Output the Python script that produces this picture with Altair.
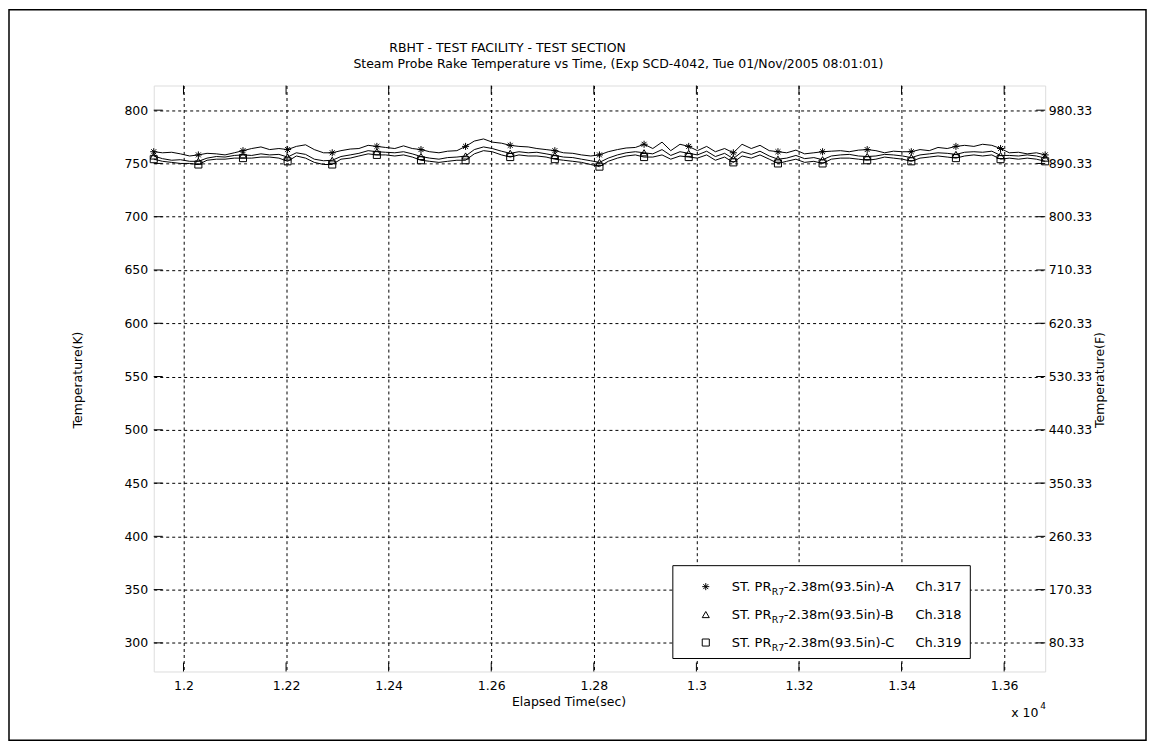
import altair as alt
import pandas as pd

# ---------------- data ----------------
TIME_S = [11942, 11959, 11977, 11994, 12012,
          12029, 12046, 12064, 12081, 12099,
          12116, 12133, 12151, 12168, 12186,
          12203, 12220, 12238, 12255, 12273,
          12290, 12307, 12325, 12342, 12360,
          12377, 12394, 12412, 12429, 12446,
          12463, 12480, 12498, 12515, 12533,
          12550, 12567, 12585, 12602, 12620,
          12637, 12654, 12672, 12689, 12707,
          12724, 12741, 12759, 12776, 12794,
          12811, 12828, 12846, 12863, 12881,
          12898, 12915, 12933, 12950, 12968,
          12985, 13002, 13020, 13037, 13055,
          13072, 13089, 13107, 13124, 13142,
          13159, 13176, 13194, 13211, 13229,
          13246, 13263, 13281, 13298, 13316,
          13333, 13350, 13367, 13384, 13402,
          13419, 13436, 13454, 13471, 13489,
          13506, 13523, 13541, 13558, 13576,
          13593, 13610, 13628, 13645, 13663,
          13680]

SER_A = [761, 760, 760.5, 759, 757,
         758, 759.5, 759, 758, 760,
         762, 764, 765.5, 763, 764,
         763, 766, 767.5, 763, 760,
         760, 762, 763.5, 764, 767,
         766, 765, 764, 766.5, 764,
         763, 761, 760, 761.5, 762,
         766, 771, 773, 770, 769,
         767, 766, 765.5, 764, 763,
         762, 760, 759.5, 758, 757,
         758, 761, 763, 764.5, 765,
         768, 764, 770, 762, 768,
         766, 762, 766, 761, 764,
         760, 768, 764, 767, 762,
         761, 760, 762.5, 759, 760,
         761, 761.5, 762, 761, 762.5,
         763, 762, 760, 761.5, 761,
         761, 763, 762, 765, 764,
         766, 767, 766, 768, 767,
         764, 760, 760.5, 759, 760,
         758]

SER_B = [757, 754.5, 753, 753.5, 752,
         752, 755, 756.5, 756, 757.5,
         758, 757.5, 759, 758, 758.5,
         756, 760, 758.5, 754, 752.5,
         753, 756.5, 758, 759.5, 762,
         761, 760.5, 760, 761, 759,
         756.5, 755, 754, 755.5, 756,
         757, 763, 765.5, 764, 761.5,
         759.5, 761, 760, 760.5, 759,
         757.5, 756, 755.5, 754, 752.5,
         751, 755, 758, 760, 761,
         760, 759, 763, 757.5, 761,
         759.5, 758, 761.5, 756.5, 759.5,
         754.5, 761, 758.5, 761.5, 757,
         754, 755, 757.5, 754.5, 755.5,
         753.5, 757, 758, 758.5, 757,
         756.5, 757, 758.5, 758, 757,
         755.5, 758, 759, 760, 759.5,
         758.5, 760.5, 761, 760.5, 761.5,
         757.5, 757.5, 757, 758, 757,
         755]

SER_C = [754, 752, 751, 750, 750,
         749, 753, 754, 754, 755,
         755, 755, 756, 756, 755,
         752, 757, 755, 751, 749,
         749, 754, 755, 757, 759,
         758, 758, 757, 758, 756,
         753, 752, 751, 752, 753,
         753, 759, 762, 761, 758,
         756, 758, 757, 757, 756,
         754, 753, 752, 751, 749,
         747, 752, 755, 757, 758,
         756, 756, 758, 754, 757,
         756, 755, 758, 753, 756,
         751, 757, 755, 758, 754,
         750, 752, 754, 751, 752,
         750, 754, 755, 755, 754,
         753, 754, 756, 755, 754,
         752, 755, 756, 757, 756,
         755, 757, 758, 757, 758,
         754, 755, 754, 755, 754,
         752]

SERIES_NAMES = ["A", "B", "C"]
LEGEND_PREFIX = "ST. PR"
LEGEND_SUB = "R7"
LEGEND_BODY = ["-2.38m(93.5in)-A", "-2.38m(93.5in)-B", "-2.38m(93.5in)-C"]
LEGEND_CH = ["Ch.317", "Ch.318", "Ch.319"]
MARKER_EVERY = 5

X_DOMAIN = [11942, 13680]
Y_DOMAIN = [273.15, 823.15]
X_TICKS_S = [12000, 12200, 12400, 12600, 12800, 13000, 13200, 13400, 13600]
Y_TICKS_K = [300, 350, 400, 450, 500, 550, 600, 650, 700, 750, 800]

TITLE_1 = "RBHT - TEST FACILITY - TEST SECTION"
TITLE_2 = "Steam Probe Rake Temperature vs Time, (Exp SCD-4042, Tue 01/Nov/2005 08:01:01)"
X_TITLE = "Elapsed Time(sec)"
Y_TITLE_L = "Temperature(K)"
Y_TITLE_R = "Temperature(F)"

# ---------------- layout / style ----------------
W, H = 893, 587
FONT = "DejaVu Sans"
FS = 12.5
TICK_LEN = 9
ASTERISK = "M0,-1L0,1M-1,0L1,0M-0.7,-0.7L0.7,0.7M-0.7,0.7L0.7,-0.7"
SHAPES = [ASTERISK, "triangle-up", "square"]

rows = []
for name, vals in zip(SERIES_NAMES, [SER_A, SER_B, SER_C]):
    for i, (t, v) in enumerate(zip(TIME_S, vals)):
        rows.append({"t": t, "temp": v, "series": name, "marker": i % MARKER_EVERY == 0})
df = pd.DataFrame(rows)

xs = alt.Scale(domain=X_DOMAIN, nice=False, zero=False)
ys = alt.Scale(domain=Y_DOMAIN, nice=False, zero=False)

common_axis = dict(ticks=False, domain=False, title=None, labelFont=FONT,
                   labelFontSize=FS, labelColor="black")

x_axis = alt.Axis(values=X_TICKS_S, labelExpr="format(datum.value/10000, '~g')",
                  grid=True, gridColor="black", gridDash=[3, 3], gridWidth=1,
                  gridOpacity=1, labelPadding=8, orient="bottom", **common_axis)
y_axis = alt.Axis(values=Y_TICKS_K, grid=True, gridColor="black", gridDash=[3, 3],
                  gridWidth=1, gridOpacity=1, labelPadding=6, orient="left", **common_axis)
y_axis_r = alt.Axis(values=Y_TICKS_K, orient="right", grid=False,
                    labelExpr="format(datum.value*1.8-459.67, '.2f')",
                    labelPadding=3, **common_axis)

X_ENC = dict(scale=xs, axis=x_axis)

lines = alt.Chart(df).mark_line(color="black", strokeWidth=1, clip=True).encode(
    x=alt.X("t:Q", **X_ENC),
    y=alt.Y("temp:Q", scale=ys, axis=y_axis),
    detail="series:N",
)

right_axis = alt.Chart(df).mark_line(opacity=0).encode(
    x=alt.X("t:Q", **X_ENC),
    y=alt.Y("temp:Q", scale=ys, axis=y_axis_r),
    detail="series:N",
)

markers = alt.Chart(df).transform_filter("datum.marker").mark_point(
    filled=False, color="black", size=50, strokeWidth=1, opacity=1, clip=False
).encode(
    x=alt.X("t:Q", **X_ENC),
    y=alt.Y("temp:Q", scale=ys, axis=None),
    shape=alt.Shape("series:N", scale=alt.Scale(domain=SERIES_NAMES, range=SHAPES), legend=None),
)

yt = pd.DataFrame({"v": Y_TICKS_K})
xt = pd.DataFrame({"t": X_TICKS_S})
tick_l = alt.Chart(yt).mark_rule(color="black", strokeWidth=1).encode(
    y=alt.Y("v:Q", scale=ys, axis=None), x=alt.value(0), x2=alt.value(TICK_LEN))
tick_r = alt.Chart(yt).mark_rule(color="black", strokeWidth=1).encode(
    y=alt.Y("v:Q", scale=ys, axis=None), x=alt.value(W - TICK_LEN), x2=alt.value(W))
tick_b = alt.Chart(xt).mark_rule(color="black", strokeWidth=1).encode(
    x=alt.X("t:Q", **X_ENC), y=alt.value(H - TICK_LEN), y2=alt.value(H))
tick_t = alt.Chart(xt).mark_rule(color="black", strokeWidth=1).encode(
    x=alt.X("t:Q", **X_ENC), y=alt.value(0), y2=alt.value(TICK_LEN))


def label(txt, x, y, size=FS, angle=0, align="left", baseline="middle"):
    return alt.Chart(pd.DataFrame({"s": [txt]})).mark_text(
        font=FONT, fontSize=size, color="black", align=align, baseline=baseline,
        angle=angle,
    ).encode(x=alt.value(x), y=alt.value(y), text="s:N")


# figure outer border
border = alt.Chart(pd.DataFrame({"a": [0]})).mark_rect(
    fill=None, stroke="black", strokeWidth=1.5, clip=False
).encode(x=alt.value(-145), x2=alt.value(994), y=alt.value(-76), y2=alt.value(656))

# legend box
legend_box = alt.Chart(pd.DataFrame({"a": [0]})).mark_rect(
    fill="white", stroke="black", strokeWidth=1
).encode(x=alt.value(520), x2=alt.value(818), y=alt.value(481), y2=alt.value(574))

legend_layers = [legend_box]
LEG_Y = [502, 530, 558]
for name, shp, body, ch, ly in zip(SERIES_NAMES, SHAPES, LEGEND_BODY, LEGEND_CH, LEG_Y):
    legend_layers.append(
        alt.Chart(pd.DataFrame({"s": [name]})).mark_point(
            filled=False, color="black", size=50, strokeWidth=1, opacity=1, shape=shp
        ).encode(x=alt.value(553), y=alt.value(ly))
    )
    legend_layers.append(label(LEGEND_PREFIX, 579, ly, size=13))
    legend_layers.append(label(LEGEND_SUB, 619, ly + 5, size=9.5))
    legend_layers.append(label(body, 631, ly, size=13))
    legend_layers.append(label(ch, 763, ly, size=13))

texts = [
    label(TITLE_1, 236, -38, size=12.5),
    label(TITLE_2, 200, -22, size=12.5),
    label(X_TITLE, 416, 618, align="center"),
    label("x 10", 859, 629),
    label("4", 888, 622, size=9),
    label(Y_TITLE_L, -76, 295, angle=270, align="center"),
    label(Y_TITLE_R, 948, 295, angle=270, align="center"),
]

chart = alt.layer(
    lines, markers, right_axis, tick_l, tick_r, tick_b, tick_t, border,
    *legend_layers, *texts
).resolve_axis(y="independent").properties(
    width=W, height=H,
    autosize=alt.AutoSizeParams(type="none"),
    padding={"left": 146, "top": 77, "right": 103, "bottom": 71},
).configure_view(stroke="black", strokeWidth=1).configure(background="white")

chart.save("out.html", embed_options={"renderer": "svg", "actions": False})
